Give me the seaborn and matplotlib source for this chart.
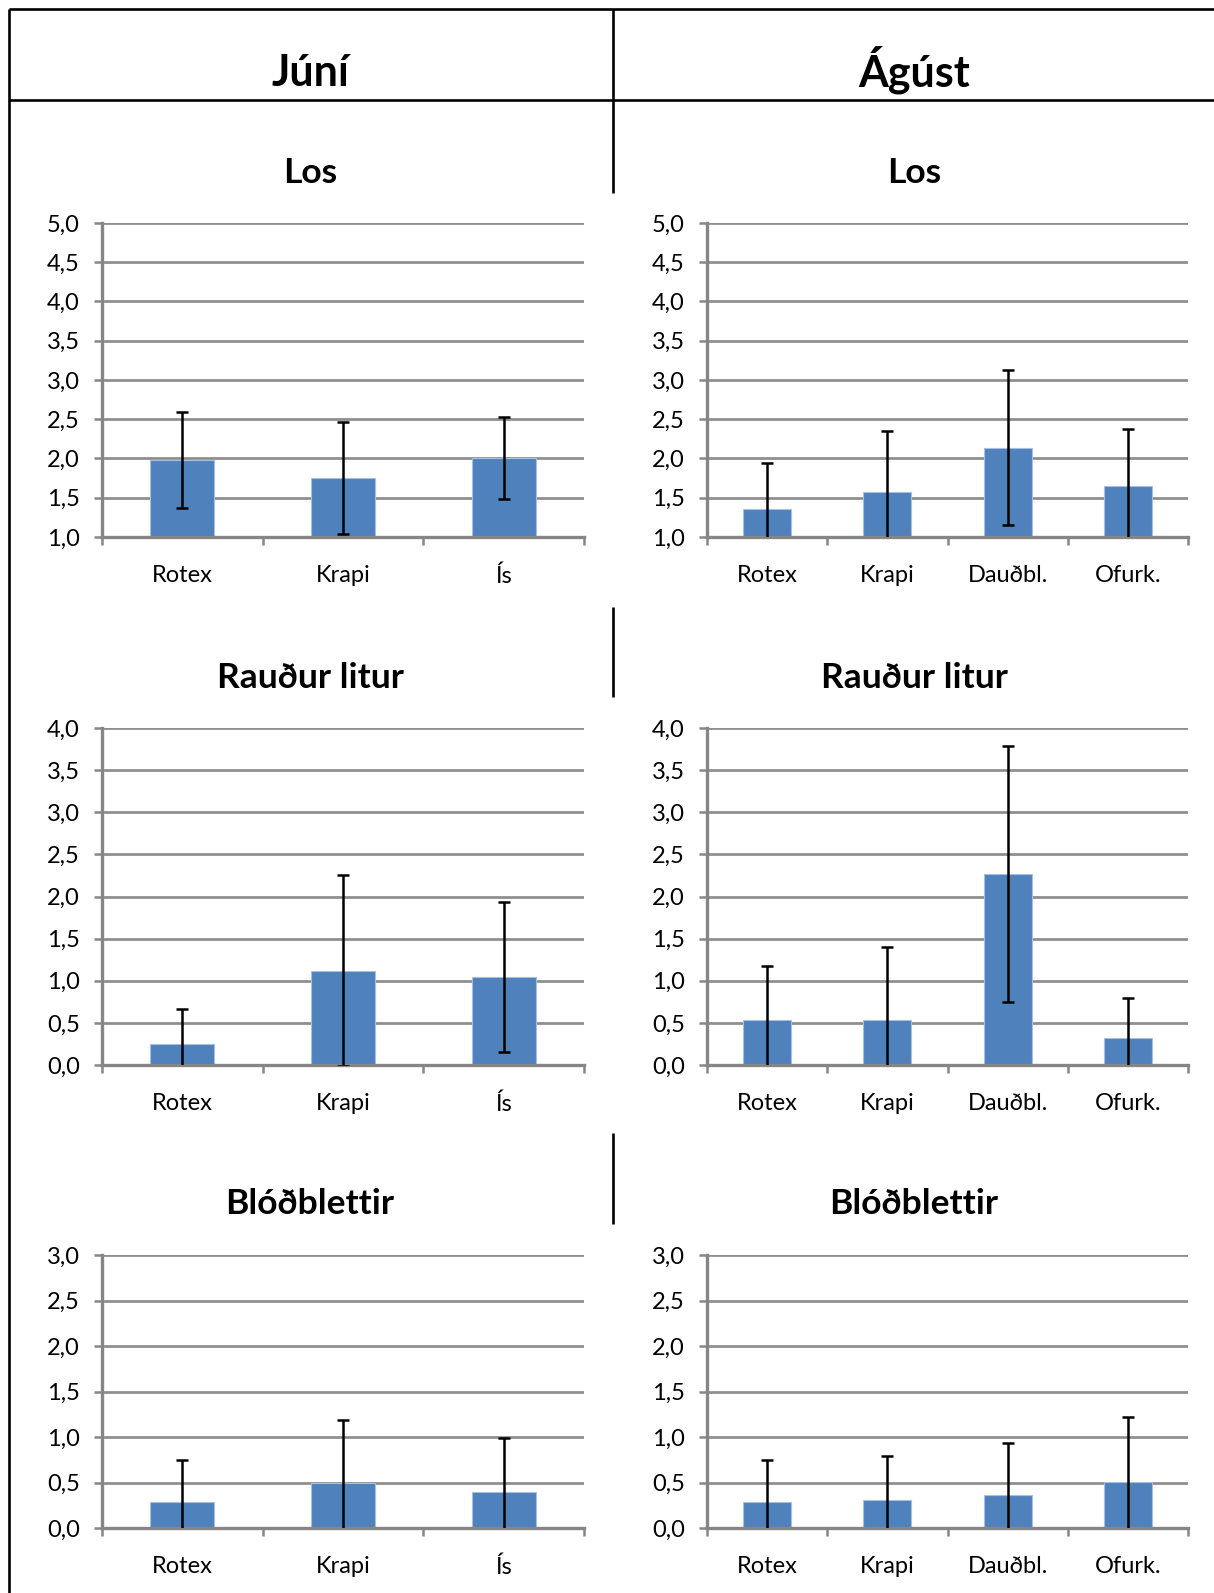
import matplotlib
matplotlib.use("Agg")
import matplotlib.pyplot as plt
from matplotlib.lines import Line2D
import seaborn as sns
import pandas as pd

# Treatment groups per sampling month
groups_jun = ["Rotex", "Krapi", "Ís"]
groups_aug = ["Rotex", "Krapi", "Dauðbl.", "Ofurk."]

# Mean scores and standard deviations
los_jun_mean = [1.98, 1.75, 2.01]
los_jun_err = [0.61, 0.71, 0.52]
los_aug_mean = [1.36, 1.57, 2.14, 1.65]
los_aug_err = [0.58, 0.78, 0.99, 0.73]

raud_jun_mean = [0.25, 1.12, 1.04]
raud_jun_err = [0.42, 1.13, 0.89]
raud_aug_mean = [0.53, 0.53, 2.27, 0.32]
raud_aug_err = [0.64, 0.87, 1.52, 0.47]

blod_jun_mean = [0.29, 0.49, 0.40]
blod_jun_err = [0.46, 0.70, 0.59]
blod_aug_mean = [0.29, 0.31, 0.36, 0.51]
blod_aug_err = [0.46, 0.48, 0.57, 0.71]

month_titles = ["Júní", "Ágúst"]
panel_titles = ["Los", "Rauður litur", "Blóðblettir"]
y_limits = [(1.0, 5.0), (0.0, 4.0), (0.0, 3.0)]

sns.set_theme(style="white")
plt.rcParams["font.family"] = ["Lato", "DejaVu Sans"]

W, H = 1214, 1593
fig = plt.figure(figsize=(W / 100, H / 100), dpi=100)
fig.patch.set_facecolor("white")

BAR = "#4F81BD"
AXC = "#868686"
GRIDC = "#8F8F8F"


def rect(x0, y0, x1, y1):
    return [x0 / W, 1 - y1 / H, (x1 - x0) / W, (y1 - y0) / H]


def fx(x):
    return x / W


def fy(y):
    return 1 - y / H


def fmt(v):
    return f"{v:.1f}".replace(".", ",")


def draw_panel(box, cats, means, errs, ylim):
    ax = fig.add_axes(rect(*box))
    df = pd.DataFrame({"group": cats, "value": means})
    sns.barplot(data=df, x="group", y="value", order=cats, color=BAR,
                saturation=1, width=0.4, errorbar=None, ax=ax,
                edgecolor="#A7BFE0", linewidth=0.8)
    ax.errorbar(range(len(cats)), means, yerr=errs, fmt="none",
                ecolor="black", elinewidth=1.8, capsize=4.3, capthick=1.8,
                zorder=4)
    lo, hi = ylim
    ax.set_ylim(lo, hi)
    ax.set_xlim(-0.5, len(cats) - 0.5)
    ticks = [lo + 0.5 * i for i in range(int(round((hi - lo) / 0.5)) + 1)]
    ax.set_yticks(ticks)
    ax.set_yticklabels([fmt(t) for t in ticks])
    ax.yaxis.grid(True, color=GRIDC, linewidth=2.0)
    ax.xaxis.grid(False)
    ax.set_axisbelow(True)
    for s in ("top", "right"):
        ax.spines[s].set_visible(False)
    for s in ("left", "bottom"):
        ax.spines[s].set_color(AXC)
        ax.spines[s].set_linewidth(2.4)
    ax.set_xlabel("")
    ax.set_ylabel("")
    ax.tick_params(axis="y", which="major", length=5.5, width=1.8,
                   color=AXC, pad=10.5, labelsize=17, labelcolor="black",
                   left=True)
    ax.set_xticks([i - 0.5 for i in range(len(cats) + 1)], minor=True)
    ax.tick_params(axis="x", which="minor", length=6, width=1.8,
                   color=AXC, bottom=True)
    ax.tick_params(axis="x", which="major", length=0, pad=20.5,
                   labelsize=17, labelcolor="black")
    ax.set_facecolor("white")
    return ax


# Panel boxes in pixel coordinates (left, top, right, bottom)
rows_y = [(223, 537), (728, 1065), (1255, 1528)]
cols_x = [(102, 584), (707, 1188)]
title_y = [183, 688, 1214]
col_center = [310, 914]

data = [
    [(groups_jun, los_jun_mean, los_jun_err), (groups_aug, los_aug_mean, los_aug_err)],
    [(groups_jun, raud_jun_mean, raud_jun_err), (groups_aug, raud_aug_mean, raud_aug_err)],
    [(groups_jun, blod_jun_mean, blod_jun_err), (groups_aug, blod_aug_mean, blod_aug_err)],
]

for r in range(3):
    for c in range(2):
        cats, m, e = data[r][c]
        x0, x1 = cols_x[c]
        y0, y1 = rows_y[r]
        draw_panel((x0, y0, x1, y1), cats, m, e, y_limits[r])
        fig.text(fx(col_center[c]), fy(title_y[r]), panel_titles[r],
                 ha="center", va="baseline", fontsize=25.5, fontweight="bold",
                 color="black")

for c in range(2):
    fig.text(fx(col_center[c]), fy(86), month_titles[c], ha="center",
             va="baseline", fontsize=31, fontweight="bold", color="black")

# Table frame
frame = [
    ((9, 1214), (9, 9)),
    ((9, 1214), (100, 100)),
    ((9, 9), (9, 1593)),
    ((613, 613), (9, 193)),
    ((613, 613), (607, 697)),
    ((613, 613), (1133, 1224)),
]
for xs, ys in frame:
    fig.add_artist(Line2D([fx(x) for x in xs], [fy(y) for y in ys],
                          color="black", linewidth=1.9,
                          solid_capstyle="butt"))

fig.savefig("out.png", dpi=100, facecolor="white")
